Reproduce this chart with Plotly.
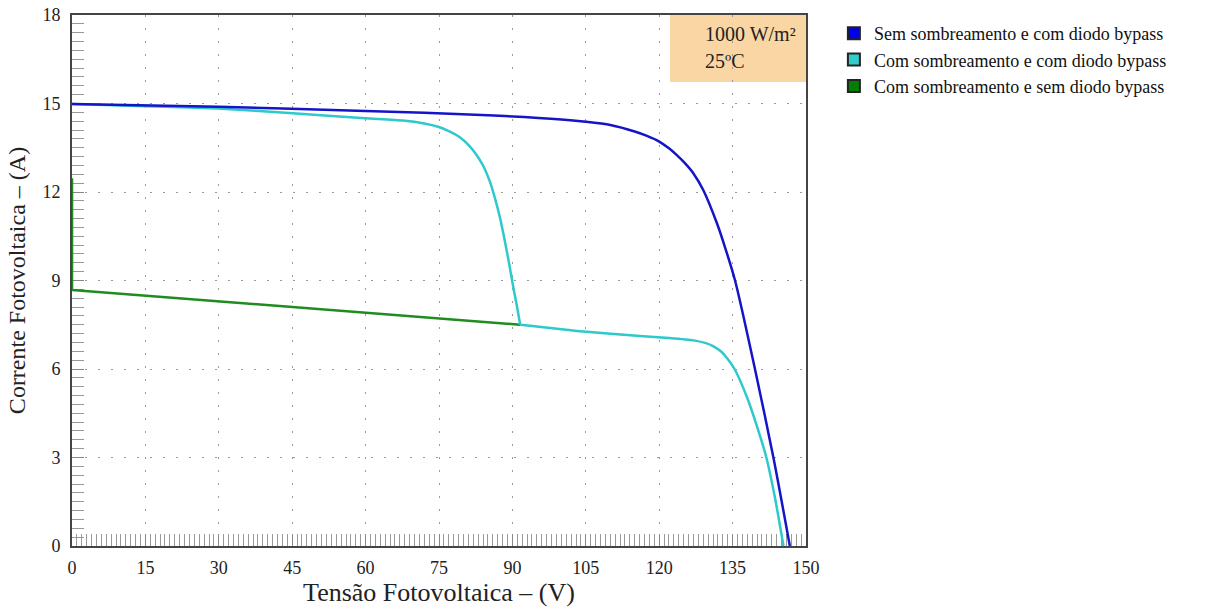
import plotly.graph_objects as go

# Sem sombreamento e com diodo bypass
v_blue = [0, 30, 60, 85, 100, 105, 110, 115, 117.5, 120, 122, 123.6, 125.3, 127, 129, 131.8, 133.5, 135.5,
          139.7, 143.4, 146.7]
i_blue = [14.98, 14.89, 14.75, 14.6, 14.46, 14.38, 14.27, 14.05, 13.9, 13.71, 13.48, 13.25, 12.97, 12.63, 12.07,
          10.94, 10.1, 9.0, 5.9, 2.95, 0.0]

# Com sombreamento e com diodo bypass (upper branch, then lower branch)
v_cyan_up = [0, 15, 29.8, 45.1, 59.9, 67.6, 72, 74.8, 77, 79.3, 81, 82.5, 84, 85.4, 86.5, 87.5, 88.5, 89.3,
             90.1, 90.9, 91.6]
i_cyan_up = [14.98, 14.91, 14.83, 14.67, 14.5, 14.42, 14.32, 14.21, 14.06, 13.85, 13.6, 13.3, 12.9, 12.35,
             11.75, 11.1, 10.3, 9.6, 8.85, 8.15, 7.5]
v_cyan_low = [91.6, 104.5, 116.1, 122, 127, 129.7, 131.1, 132.6, 133.8, 135.4, 137.9, 139.9, 141.9, 143.7, 145.4]
i_cyan_low = [7.5, 7.27, 7.12, 7.05, 6.97, 6.87, 6.77, 6.6, 6.38, 6.0, 5.06, 4.1, 3.0, 1.6, 0.0]

# Com sombreamento e sem diodo bypass
v_green = [0, 0, 91.6]
i_green = [12.47, 8.68, 7.5]

names = ["Sem sombreamento e com diodo bypass",
         "Com sombreamento e com diodo bypass",
         "Com sombreamento e sem diodo bypass"]
line_colors = ["#1414C8", "#2EC9CC", "#1E8C1E"]
legend_colors = ["#0000F0", "#33CCCC", "#008000"]

x_ticks = [0, 15, 30, 45, 60, 75, 90, 105, 120, 135, 150]
y_ticks = [0, 3, 6, 9, 12, 15, 18]

FONT = "Liberation Serif"

fig = go.Figure()
fig.add_trace(go.Scatter(x=v_green, y=i_green, mode="lines", line=dict(color=line_colors[2], width=2.5),
                         showlegend=False, hoverinfo="skip"))
for vx, iy in [(v_cyan_up, i_cyan_up), (v_cyan_low, i_cyan_low)]:
    fig.add_trace(go.Scatter(x=vx, y=iy, mode="lines",
                             line=dict(color=line_colors[1], width=2.5, shape="spline", smoothing=0.6),
                             showlegend=False, hoverinfo="skip"))
fig.add_trace(go.Scatter(x=v_blue, y=i_blue, mode="lines",
                         line=dict(color=line_colors[0], width=2.5, shape="spline", smoothing=0.7),
                         showlegend=False, hoverinfo="skip"))

for n, c in zip(names, legend_colors):
    fig.add_trace(go.Scatter(x=[None], y=[None], mode="markers", name=n,
                             marker=dict(symbol="square", size=17, color=c, line=dict(color="#222", width=1))))

fig.add_shape(type="rect", xref="x", yref="y", x0=122.2, x1=150, y0=15.73, y1=18,
              fillcolor="#FAD6A5", line=dict(width=0), layer="below")
fig.add_annotation(x=129.0, y=17.35, xref="x", yref="y", text="1000 W/m²", showarrow=False,
                   xanchor="left", font=dict(family=FONT, size=20, color="#222"))
fig.add_annotation(x=129.0, y=16.45, xref="x", yref="y", text="25ºC", showarrow=False,
                   xanchor="left", font=dict(family=FONT, size=20, color="#222"))

grid = dict(showgrid=True, gridcolor="#9a9a9a", gridwidth=1, griddash="2px,11px")
axis_common = dict(ticks="inside", ticklen=12, tickcolor="#888", showline=True, linecolor="#444", linewidth=2,
                   mirror=True, zeroline=False, layer="below traces", automargin=False,
                   tickfont=dict(family=FONT, size=18, color="#222"))
fig.update_layout(
    width=1212, height=607,
    margin=dict(l=72, r=406, t=15, b=61, autoexpand=False),
    paper_bgcolor="white", plot_bgcolor="white",
    font=dict(family=FONT, color="#222"),
    showlegend=True,
    legend=dict(x=1.038, y=1.0, xanchor="left", yanchor="top", font=dict(family=FONT, size=18, color="#111"),
                itemsizing="constant", tracegroupgap=0, bgcolor="rgba(0,0,0,0)"),
    xaxis=dict(range=[0, 150], tickvals=x_ticks, ticktext=[str(t) for t in x_ticks], ticklabelstandoff=4,
               minor=dict(dtick=1, ticks="inside", ticklen=12, tickcolor="#999", showgrid=False),
               title=dict(text="Tensão Fotovoltaica – (V)", font=dict(family=FONT, size=26, color="#222"), standoff=4),
               **axis_common, **grid),
    yaxis=dict(range=[0, 18], tickvals=y_ticks, ticktext=[str(t) for t in y_ticks], ticklabelstandoff=6,
               minor=dict(dtick=0.3, ticks="inside", ticklen=12, tickcolor="#999", showgrid=False),
               title=dict(text="Corrente Fotovoltaica – (A)", font=dict(family=FONT, size=24, color="#222"), standoff=10),
               **axis_common, **grid),
)
fig.write_html("out.html")
